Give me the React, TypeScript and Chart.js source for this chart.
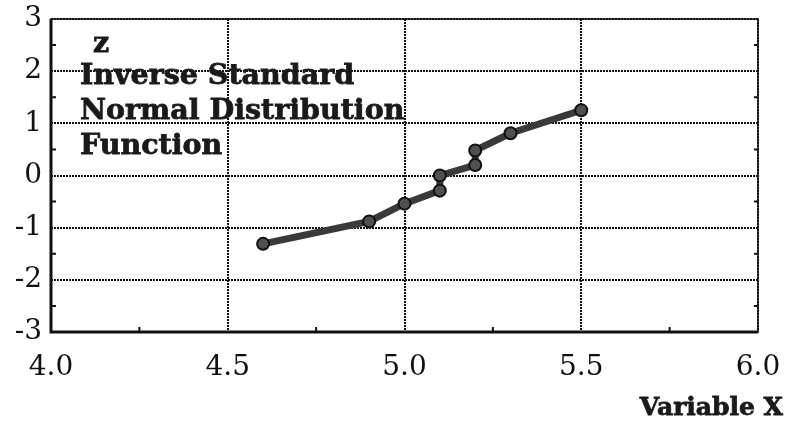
import React, { useEffect, useRef } from "react";
import { Chart, registerables } from "chart.js";

Chart.register(...registerables);

const xValues = [4.6, 4.9, 5.0, 5.1, 5.1, 5.2, 5.2, 5.3, 5.5];
const zValues = [-1.31, -0.88, -0.54, -0.29, 0.0, 0.2, 0.48, 0.81, 1.25];
const xTicks = [4.0, 4.5, 5.0, 5.5, 6.0];
const yTicks = [-3, -2, -1, 0, 1, 2, 3];
const xMinorTicks = [4.25, 4.75, 5.25, 5.75];
const yMinorTicks = [-2.5, -1.5, -0.5, 0.5, 1.5, 2.5];
const annotationLines = ["z", "Inverse Standard", "Normal Distribution", "Function"];
const xAxisTitle = "Variable X";

const SERIF = "'DejaVu Serif', 'Liberation Serif', serif";

const decorPlugin = {
  id: "decor",
  afterDraw(chart: any) {
    const { ctx, chartArea, scales } = chart;
    const { left, right, top, bottom } = chartArea;
    ctx.save();
    // frame
    ctx.strokeStyle = "#111";
    ctx.lineWidth = 1.5;
    ctx.strokeRect(left, top, right - left, bottom - top);
    ctx.lineWidth = 3;
    ctx.beginPath();
    ctx.moveTo(left, top);
    ctx.lineTo(left, bottom);
    ctx.lineTo(right, bottom);
    ctx.stroke();
    // minor ticks
    ctx.lineWidth = 2;
    for (const v of xMinorTicks) {
      const px = scales.x.getPixelForValue(v);
      ctx.beginPath();
      ctx.moveTo(px, bottom);
      ctx.lineTo(px, bottom - 5);
      ctx.stroke();
    }
    for (const v of yMinorTicks) {
      const py = scales.y.getPixelForValue(v);
      ctx.beginPath();
      ctx.moveTo(left, py);
      ctx.lineTo(left + 5, py);
      ctx.moveTo(right, py);
      ctx.lineTo(right - 4, py);
      ctx.stroke();
    }
    // annotation text
    ctx.fillStyle = "#1a1a1a";
    ctx.strokeStyle = "#1a1a1a";
    ctx.lineWidth = 0.8;
    ctx.textBaseline = "middle";
    ctx.textAlign = "left";
    ctx.font = `bold 28.5px ${SERIF}`;
    ctx.fillText(annotationLines[0], left + 42, top + 26);
    ctx.strokeText(annotationLines[0], left + 42, top + 26);
    for (let i = 1; i < annotationLines.length; i++) {
      const y = top + 58 + (i - 1) * 35;
      ctx.fillText(annotationLines[i], left + 29, y);
      ctx.strokeText(annotationLines[i], left + 29, y);
    }
    // x-axis title
    ctx.textAlign = "right";
    ctx.font = `bold 25px ${SERIF}`;
    ctx.fillText(xAxisTitle, right + 25, bottom + 76);
    ctx.strokeText(xAxisTitle, right + 25, bottom + 76);
    ctx.restore();
  },
};

export default function App() {
  const ref = useRef<HTMLCanvasElement | null>(null);
  useEffect(() => {
    if (!ref.current) return;
    const chart = new Chart(ref.current, {
      type: "scatter",
      data: {
        datasets: [
          {
            data: xValues.map((x, i) => ({ x, y: zValues[i] })),
            showLine: true,
            borderColor: "#3a3a3a",
            borderWidth: 7,
            pointRadius: 6,
            pointBackgroundColor: "#505050",
            pointBorderColor: "#111",
            pointBorderWidth: 2,
          },
        ],
      },
      options: {
        animation: false,
        responsive: false,
        maintainAspectRatio: false,
        layout: { padding: { top: 19, right: 30, left: 0, bottom: 0 } },
        plugins: { legend: { display: false }, tooltip: { enabled: false } },
        scales: {
          x: {
            type: "linear",
            min: 4,
            max: 6,
            afterBuildTicks: (s: any) => {
              s.ticks = xTicks.map((v) => ({ value: v }));
            },
            afterFit: (s: any) => {
              s.height = 95;
              s.paddingLeft = 0;
              s.paddingRight = 0;
            },
            ticks: {
              color: "#111",
              font: { family: SERIF, size: 28 },
              padding: 19,
              callback: (v: any) => Number(v).toFixed(1),
            },
            grid: { color: "#111", lineWidth: 2, drawTicks: false },
            border: { display: false, dash: [2, 1] },
          },
          y: {
            type: "linear",
            min: -3,
            max: 3,
            afterBuildTicks: (s: any) => {
              s.ticks = yTicks.map((v) => ({ value: v }));
            },
            afterFit: (s: any) => {
              s.width = 51;
              s.paddingTop = 0;
              s.paddingBottom = 0;
            },
            ticks: {
              color: "#111",
              font: { family: SERIF, size: 28 },
              padding: 9,
              callback: (v: any) => String(v),
            },
            grid: { color: "#111", lineWidth: 2, drawTicks: false },
            border: { display: false, dash: [2, 1] },
          },
        },
      },
      plugins: [decorPlugin],
    });
    return () => chart.destroy();
  }, []);
  return (
    <div style={{ position: "fixed", left: 0, top: 0, width: 788, height: 427, background: "#fff" }}>
      <canvas ref={ref} width={788} height={427} style={{ width: 788, height: 427 }} />
    </div>
  );
}
